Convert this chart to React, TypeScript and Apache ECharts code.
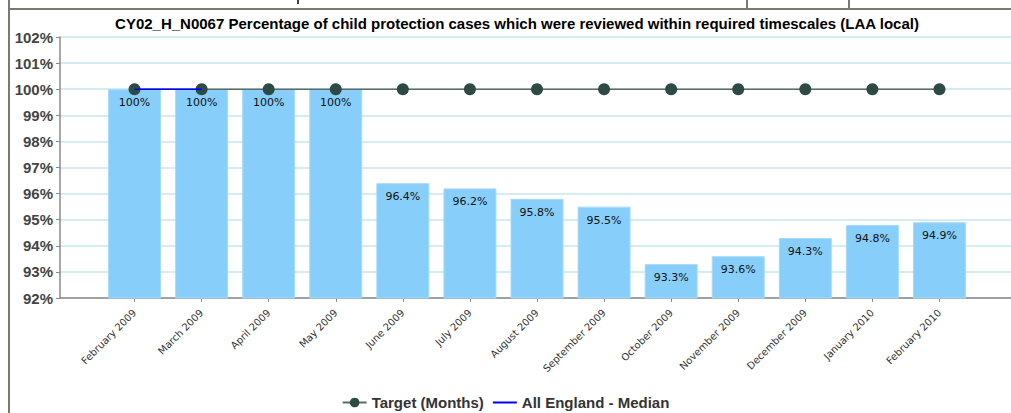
import React, { useEffect, useRef } from "react";
import * as echarts from "echarts";

// Monthly periods shown along the category axis
const months = [
  "February 2009",
  "March 2009",
  "April 2009",
  "May 2009",
  "June 2009",
  "July 2009",
  "August 2009",
  "September 2009",
  "October 2009",
  "November 2009",
  "December 2009",
  "January 2010",
  "February 2010",
];

// Percentage of cases reviewed within timescales (LAA local)
const reviewed = [100, 100, 100, 100, 96.4, 96.2, 95.8, 95.5, 93.3, 93.6, 94.3, 94.8, 94.9];

// Target value for each month
const target = [100, 100, 100, 100, 100, 100, 100, 100, 100, 100, 100, 100, 100];

// All England median (only reported for the first two months)
const englandMedian = [100, 100, null, null, null, null, null, null, null, null, null, null, null];

// Value axis bounds and step
const yMin = 92;
const yMax = 102;
const yStep = 1;

const TITLE =
  "CY02_H_N0067 Percentage of child protection cases which were reviewed within required timescales (LAA local)";

const frameColor = "#7a7a70";

export default function App() {
  const ref = useRef<HTMLDivElement>(null);

  useEffect(() => {
    if (!ref.current) return;
    const chart = echarts.init(ref.current, undefined, { renderer: "svg" });

    const option: any = {
      animation: false,
      backgroundColor: "#ffffff",
      title: {
        text: TITLE,
        left: 512,
        textAlign: "center",
        top: 11,
        textStyle: {
          fontFamily: "Liberation Sans, Arial, sans-serif",
          fontSize: 15,
          fontWeight: "bold",
          color: "#000000",
        },
      },
      legend: {
        top: 395,
        left: "center",
        padding: 0,
        itemGap: 8,
        itemWidth: 24,
        itemHeight: 12,
        data: [
          { name: "Target (Months)" },
          {
            name: "All England - Median",
            itemStyle: { color: "rgba(0,0,0,0)", borderWidth: 0, opacity: 0 },
          },
        ],
        textStyle: {
          fontFamily: "Liberation Sans, Arial, sans-serif",
          fontSize: 15,
          fontWeight: "bold",
          color: "#333333",
        },
      },
      grid: [
        // Frame grid: value axis, gridlines and bottom axis line
        { left: 60, right: 0, top: 37, bottom: 115, containLabel: false },
        // Category grid: bars and the target/median lines
        { left: 101, right: 38, top: 37, bottom: 115, containLabel: false },
      ],
      xAxis: [
        {
          gridIndex: 0,
          type: "value",
          min: 0,
          max: 1,
          axisLine: { show: true, lineStyle: { color: "#8a8a8a", width: 1.5 } },
          axisTick: { show: false },
          axisLabel: { show: false },
          splitLine: { show: false },
        },
        {
          gridIndex: 1,
          type: "category",
          data: months,
          boundaryGap: true,
          axisLine: { show: false },
          axisTick: {
            show: true,
            alignWithLabel: true,
            length: 4,
            lineStyle: { color: "#8a8a8a" },
          },
          axisLabel: {
            rotate: 45,
            interval: 0,
            margin: 13,
            fontFamily: "DejaVu Sans, Verdana, sans-serif",
            fontSize: 10,
            color: "#333333",
          },
        },
      ],
      yAxis: [
        {
          gridIndex: 0,
          type: "value",
          min: yMin,
          max: yMax,
          interval: yStep,
          axisLine: { show: true, lineStyle: { color: "#8a8a8a", width: 1.5 } },
          axisTick: { show: true, length: 4, lineStyle: { color: "#8a8a8a" } },
          axisLabel: {
            formatter: "{value}%",
            margin: 7,
            fontFamily: "Liberation Sans, Arial, sans-serif",
            fontSize: 15,
            fontWeight: "bold",
            color: "#444444",
          },
          splitLine: { show: true, lineStyle: { color: "#c6e6ee", width: 1.5 } },
        },
        {
          gridIndex: 1,
          type: "value",
          min: yMin,
          max: yMax,
          interval: yStep,
          axisLine: { show: false },
          axisTick: { show: false },
          axisLabel: { show: false },
          splitLine: { show: false },
        },
      ],
      series: [
        {
          name: "Reviewed",
          type: "bar",
          xAxisIndex: 1,
          yAxisIndex: 1,
          data: reviewed,
          barWidth: 53,
          itemStyle: { color: "#87cefa", borderColor: "#a6dafb", borderWidth: 1 },
          label: {
            show: true,
            position: "insideTop",
            distance: 8,
            formatter: (p: any) => `${p.value}%`,
            fontFamily: "DejaVu Sans, Verdana, sans-serif",
            fontSize: 11,
            color: "#111111",
          },
        },
        {
          name: "Target (Months)",
          type: "line",
          xAxisIndex: 1,
          yAxisIndex: 1,
          data: target,
          symbol: "circle",
          symbolSize: 12,
          lineStyle: { color: "#5b6b66", width: 1.5 },
          itemStyle: { color: "#2e4a45" },
          z: 3,
        },
        {
          name: "All England - Median",
          type: "line",
          xAxisIndex: 1,
          yAxisIndex: 1,
          data: englandMedian,
          symbol: "none",
          lineStyle: { color: "#0000ff", width: 1.5 },
          itemStyle: { color: "#0000ff" },
          z: 4,
        },
      ],
      graphic: [
        {
          type: "line",
          shape: { x1: 9, y1: 0, x2: 9, y2: 413 },
          style: { stroke: frameColor, lineWidth: 2 },
        },
        {
          type: "line",
          shape: { x1: 9, y1: 9, x2: 1011, y2: 9 },
          style: { stroke: frameColor, lineWidth: 2 },
        },
        {
          type: "line",
          shape: { x1: 747, y1: 0, x2: 747, y2: 9 },
          style: { stroke: frameColor, lineWidth: 2 },
        },
        {
          type: "line",
          shape: { x1: 849, y1: 0, x2: 849, y2: 9 },
          style: { stroke: frameColor, lineWidth: 2 },
        },
        {
          type: "line",
          shape: { x1: 298, y1: 0, x2: 298, y2: 4 },
          style: { stroke: "#000000", lineWidth: 1.5 },
        },
      ],
    };

    chart.setOption(option);
    return () => chart.dispose();
  }, []);

  return (
    <div
      ref={ref}
      style={{ position: "fixed", left: 0, top: 0, width: 1011, height: 413 }}
    />
  );
}
